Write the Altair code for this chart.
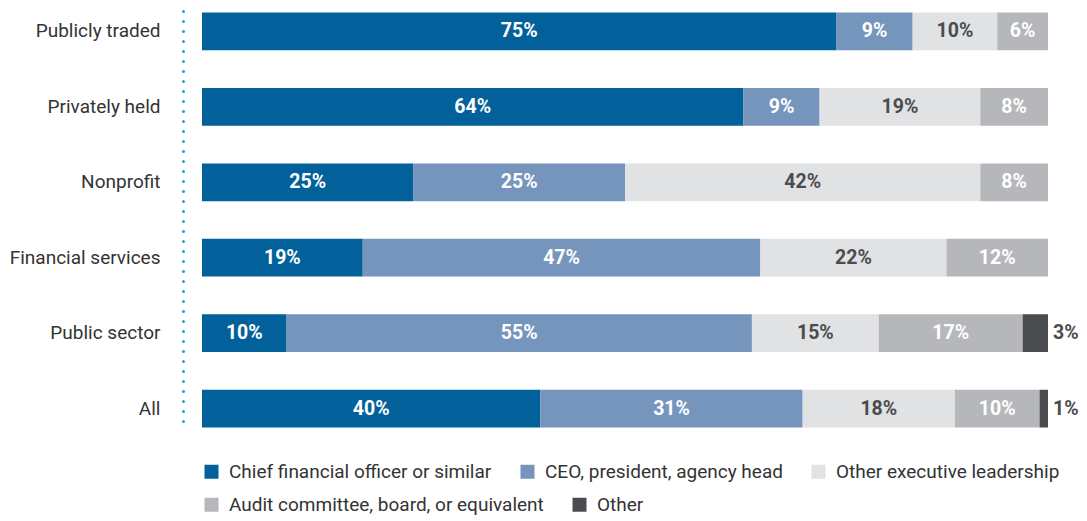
import altair as alt
import pandas as pd

categories = ["Publicly traded", "Privately held", "Nonprofit",
              "Financial services", "Public sector", "All"]
series = ["Chief financial officer or similar", "CEO, president, agency head",
          "Other executive leadership", "Audit committee, board, or equivalent", "Other"]
colors = ["#02619a", "#7595bd", "#e1e2e4", "#b6b7bb", "#4b4c4f"]

cfo = [75, 64, 25, 19, 10, 40]
ceo = [9, 9, 25, 47, 55, 31]
other_exec = [10, 19, 42, 22, 15, 18]
audit = [6, 8, 8, 12, 17, 10]
other = [0, 0, 0, 0, 3, 1]

values = [cfo, ceo, other_exec, audit, other]

rows = []
for i, cat in enumerate(categories):
    start = 0
    for s, name in enumerate(series):
        v = values[s][i]
        if v > 0:
            rows.append({"category": cat, "series": name, "order": s, "value": v,
                         "x0": start, "x1": start + v, "mid": start + v / 2,
                         "label": f"{v}%"})
        start += v
df = pd.DataFrame(rows)

FONT = "Roboto"

y_enc = alt.Y("category:N", sort=categories,
              scale=alt.Scale(paddingInner=0.5, paddingOuter=0.02),
              axis=alt.Axis(title=None, ticks=False, labelFontSize=19, labelColor="#333333",
                            labelFont=FONT, labelPadding=23, offset=19,
                            domainColor="#1e9fda", domainWidth=3, domainDash=[0, 10],
                            domainCap="round"))
x_scale = alt.Scale(domain=[0, 100], nice=False, zero=True)

base = alt.Chart(df)


def legend_at(y):
    return alt.Legend(title=None, orient="none", legendX=0, legendY=y, padding=0,
                      direction="horizontal",
                      symbolType="square", symbolSize=196, symbolStrokeWidth=0,
                      labelFontSize=19, labelFont=FONT, labelColor="#333333",
                      labelLimit=500, labelOffset=8, columnPadding=26)


bars_a = base.transform_filter(alt.datum.order < 3).mark_bar().encode(
    y=y_enc,
    x=alt.X("x0:Q", scale=x_scale, axis=None),
    x2="x1:Q",
    color=alt.Color("series:N", sort=series[:3],
                    scale=alt.Scale(domain=series[:3], range=colors[:3]),
                    legend=legend_at(451)),
)

bars_b = base.transform_filter(alt.datum.order >= 3).mark_bar().encode(
    y=alt.Y("category:N", sort=categories),
    x=alt.X("x0:Q", scale=x_scale, axis=None),
    x2="x1:Q",
    color=alt.Color("series:N", sort=series[3:],
                    scale=alt.Scale(domain=series[3:], range=colors[3:]),
                    legend=legend_at(484)),
)

inside = base.transform_filter(alt.datum.series != "Other").mark_text(
    font=FONT, fontSize=19.5, fontWeight="bold", align="center", baseline="middle"
).encode(
    y=alt.Y("category:N", sort=categories),
    x=alt.X("mid:Q", scale=x_scale),
    text="label:N",
    color=alt.condition(alt.datum.series == "Other executive leadership",
                        alt.value("#4b4c4f"), alt.value("white")),
)

outside = base.transform_filter(alt.datum.series == "Other").mark_text(
    font=FONT, fontSize=19.5, fontWeight="bold", align="left", baseline="middle", dx=5,
    color="#4b4c4f"
).encode(
    y=alt.Y("category:N", sort=categories),
    x=alt.X("x1:Q", scale=x_scale),
    text="label:N",
)

chart = alt.layer(bars_a, bars_b, inside, outside).resolve_scale(
    color="independent"
).properties(
    width=846, height=418,
    autosize=alt.AutoSizeParams(type="none"),
    padding={"left": 194, "top": 3, "right": 31, "bottom": 90},
).configure_view(stroke=None)

chart.save("out.html", embed_options={"renderer": "svg", "actions": False})
